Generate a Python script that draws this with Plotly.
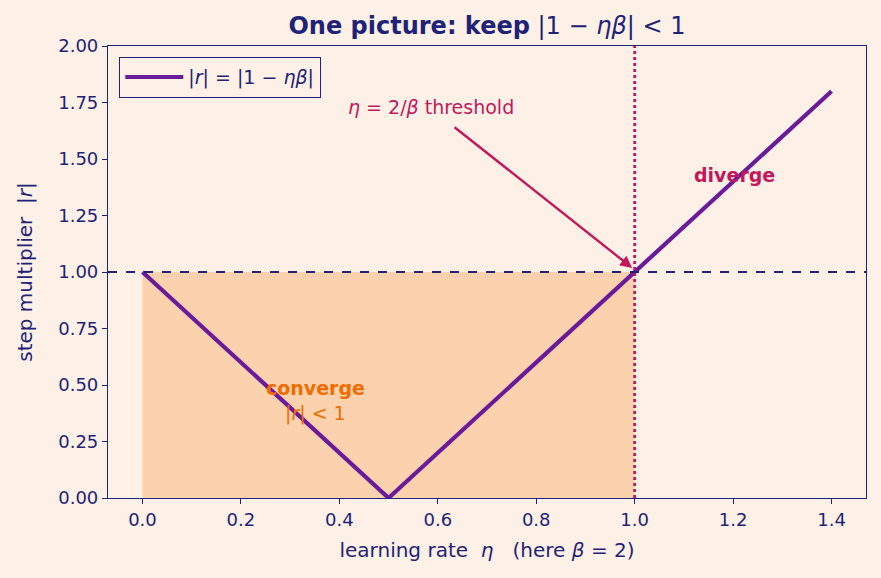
import plotly.graph_objects as go

eta = [0.0, 0.5, 1.4]
r_abs = [1.0, 0.0, 1.8]
fill_x = [0.0, 1.0]
fill_top = [1.0, 1.0]
xticks = [0.0, 0.2, 0.4, 0.6, 0.8, 1.0, 1.2, 1.4]
yticks = [0.0, 0.25, 0.5, 0.75, 1.0, 1.25, 1.5, 1.75, 2.0]

navy = "#1f2378"
purple = "#6a1b9a"
crimson = "#c2185b"
orange = "#ef6c00"
bg = "#fdf1e7"
font = "DejaVu Sans"

fig = go.Figure()
fig.add_trace(go.Scatter(x=fill_x, y=[0, 0], mode="lines", line=dict(width=0),
                         showlegend=False, hoverinfo="skip"))
fig.add_trace(go.Scatter(x=fill_x, y=fill_top, mode="lines", line=dict(width=0),
                         fill="tonexty", fillcolor="rgba(250,190,135,0.6)",
                         showlegend=False, hoverinfo="skip"))
fig.add_vline(x=1.0, line=dict(color=crimson, width=2.8, dash="dot"))
fig.add_hline(y=1.0, line=dict(color=navy, width=1.9, dash="dash"))
fig.add_trace(go.Scatter(x=eta, y=r_abs, mode="lines",
                         line=dict(color=purple, width=4.2),
                         name="|<i>r</i>| = |1 − <i>ηβ</i>|"))

fig.add_annotation(x=0.995, y=1.018, ax=0.631, ay=1.646, xref="x", yref="y",
                   axref="x", ayref="y", text="", showarrow=True,
                   arrowhead=2, arrowsize=1, arrowwidth=2.4, arrowcolor=crimson)
fig.add_annotation(x=0.586, y=1.73, text="<i>η</i> = 2/<i>β</i> threshold",
                   showarrow=False, font=dict(color=crimson, size=19, family=font))
fig.add_annotation(x=1.203, y=1.43, text="<b>diverge</b>", showarrow=False,
                   font=dict(color=crimson, size=19, family=font))
fig.add_annotation(x=0.352, y=0.487, text="<b>converge</b>", showarrow=False,
                   font=dict(color=orange, size=19, family=font))
fig.add_annotation(x=0.352, y=0.376, text="|<i>r</i>| < 1", showarrow=False,
                   font=dict(color=orange, size=19, family=font))

fig.update_layout(
    width=881, height=578,
    paper_bgcolor=bg, plot_bgcolor=bg,
    margin=dict(l=108, r=15, t=46, b=80),
    font=dict(family=font, color=navy, size=18),
    title=dict(text="<b>One picture: keep</b> |1 − <i>ηβ</i>| < 1",
               xref="paper", x=0.50, xanchor="center",
               yref="container", y=0.955, yanchor="middle",
               font=dict(size=24, color=navy)),
    legend=dict(x=0.0145, y=0.976, xanchor="left", yanchor="top",
                bgcolor=bg, bordercolor=navy, borderwidth=1.3, itemwidth=58,
                font=dict(size=19, color=navy)),
    xaxis=dict(range=[-0.07, 1.47], tickvals=xticks,
               ticktext=[f"{v:.1f}" for v in xticks],
               showgrid=False, zeroline=False, showline=True, linecolor=navy,
               linewidth=1.2, mirror=True, ticks="outside", tickcolor=navy, ticklen=5,
               tickfont=dict(size=18),
               title=dict(text="learning rate  <i>η</i>   (here <i>β</i> = 2)",
                          font=dict(size=20), standoff=14)),
    yaxis=dict(range=[0, 2.0], tickvals=yticks,
               ticktext=[f"{v:.2f}" for v in yticks],
               showgrid=False, zeroline=False, showline=True, linecolor=navy,
               linewidth=1.2, mirror=True, ticks="outside", tickcolor=navy, ticklen=5,
               tickfont=dict(size=18),
               title=dict(text="step multiplier  |<i>r</i>|", font=dict(size=20),
                          standoff=20)),
)
fig.write_html("out.html")
